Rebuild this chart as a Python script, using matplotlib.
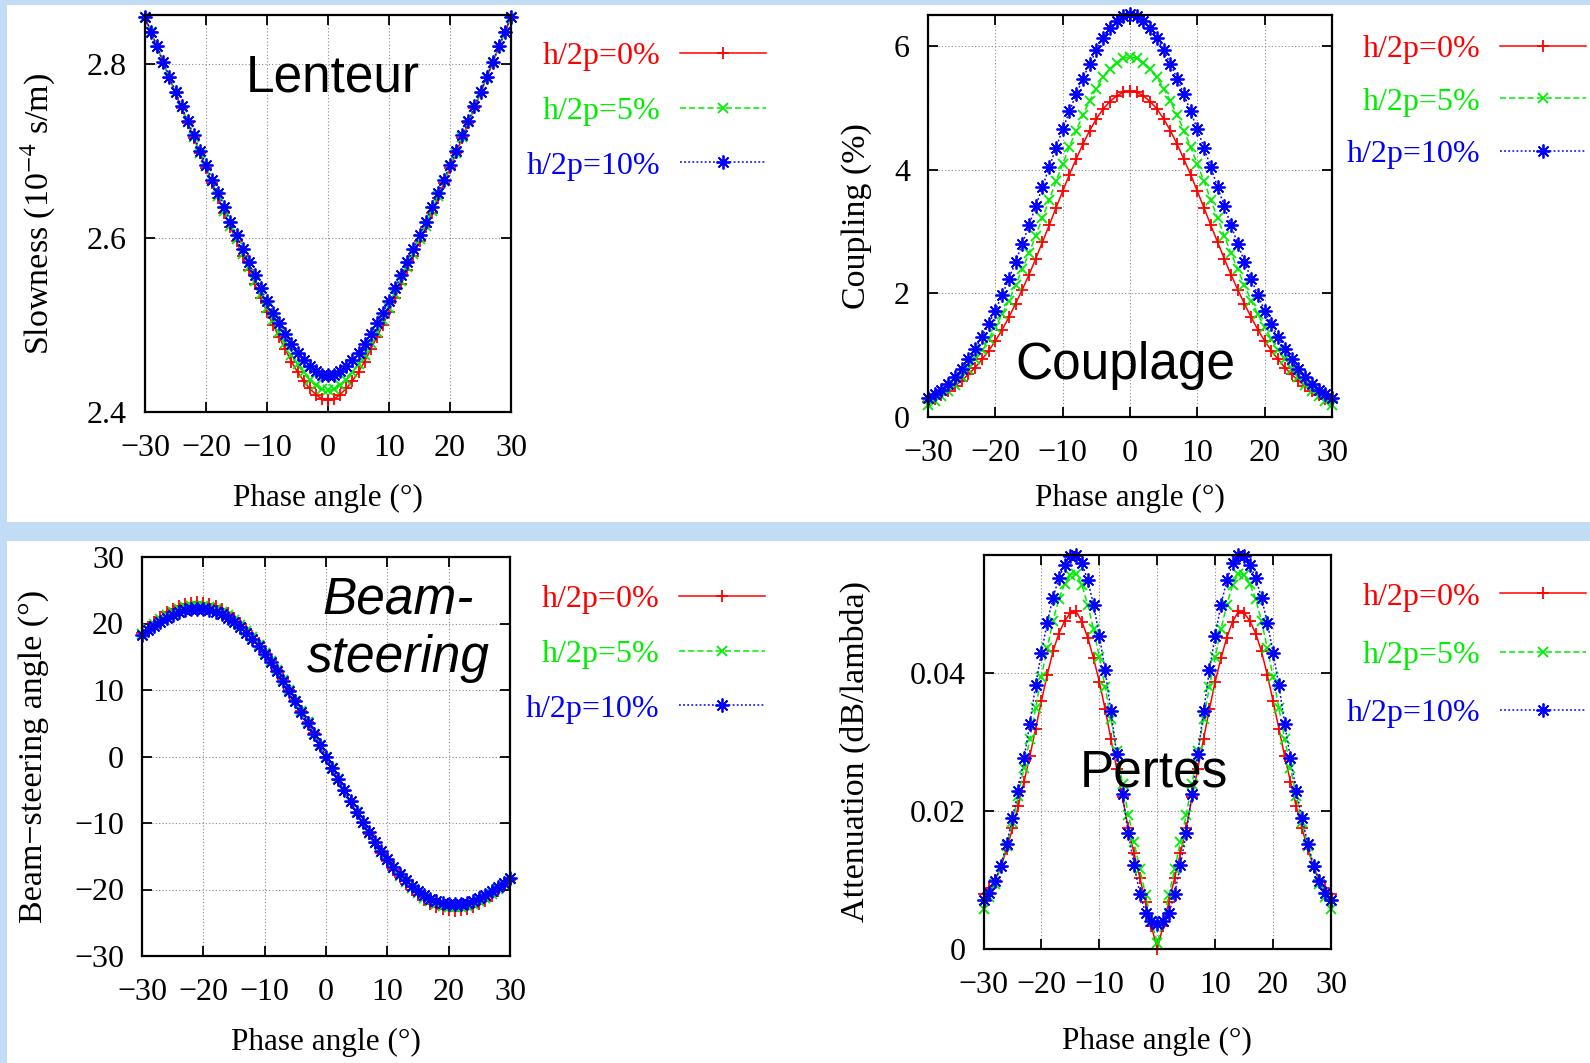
import matplotlib
matplotlib.use("Agg")
import matplotlib.pyplot as plt
from matplotlib.patches import Rectangle
from matplotlib.lines import Line2D

plt.rcParams['font.family'] = ['Liberation Serif', 'DejaVu Serif']
plt.rcParams['mathtext.fontset'] = 'stix'

# ---- data (1 degree steps) ----
phase = list(range(-30, 31))
series_labels = ['h/2p=0%', 'h/2p=5%', 'h/2p=10%']

slow_0 = [2.854, 2.836, 2.819, 2.801, 2.784, 2.766, 2.749, 2.732, 2.715, 2.697,
          2.680, 2.663, 2.646, 2.629, 2.612, 2.596, 2.579, 2.563, 2.547, 2.531,
          2.515, 2.500, 2.486, 2.472, 2.458, 2.446, 2.436, 2.427, 2.420, 2.415,
          2.414,
          2.415, 2.420, 2.427, 2.436, 2.446, 2.458, 2.472, 2.486, 2.500, 2.515,
          2.531, 2.547, 2.563, 2.579, 2.596, 2.612, 2.629, 2.646, 2.663, 2.680,
          2.697, 2.715, 2.732, 2.749, 2.766, 2.784, 2.801, 2.819, 2.836, 2.854]
slow_5 = [2.854, 2.836, 2.819, 2.801, 2.784, 2.767, 2.750, 2.733, 2.716, 2.698,
          2.682, 2.665, 2.648, 2.631, 2.614, 2.599, 2.582, 2.567, 2.551, 2.535,
          2.520, 2.506, 2.492, 2.479, 2.466, 2.455, 2.446, 2.437, 2.431, 2.426,
          2.425,
          2.426, 2.431, 2.437, 2.446, 2.455, 2.466, 2.479, 2.492, 2.506, 2.520,
          2.535, 2.551, 2.567, 2.582, 2.599, 2.614, 2.631, 2.648, 2.665, 2.682,
          2.698, 2.716, 2.733, 2.750, 2.767, 2.784, 2.801, 2.819, 2.836, 2.854]
slow_10 = [2.854, 2.836, 2.820, 2.802, 2.785, 2.768, 2.751, 2.734, 2.718, 2.700,
           2.684, 2.667, 2.651, 2.635, 2.618, 2.603, 2.587, 2.572, 2.557, 2.542,
           2.527, 2.514, 2.502, 2.490, 2.478, 2.468, 2.460, 2.453, 2.447, 2.443,
           2.442,
           2.443, 2.447, 2.453, 2.460, 2.468, 2.478, 2.490, 2.502, 2.514, 2.527,
           2.542, 2.557, 2.572, 2.587, 2.603, 2.618, 2.635, 2.651, 2.667, 2.684,
           2.700, 2.718, 2.734, 2.751, 2.768, 2.785, 2.802, 2.820, 2.836, 2.854]

coup_0 = [0.24, 0.29, 0.35, 0.42, 0.50, 0.59, 0.69, 0.80, 0.93, 1.07,
          1.23, 1.41, 1.61, 1.83, 2.06, 2.30, 2.56, 2.83, 3.10, 3.38,
          3.65, 3.92, 4.17, 4.41, 4.63, 4.82, 4.98, 5.10, 5.19, 5.25,
          5.27,
          5.25, 5.19, 5.10, 4.98, 4.82, 4.63, 4.41, 4.17, 3.92, 3.65,
          3.38, 3.10, 2.83, 2.56, 2.30, 2.06, 1.83, 1.61, 1.41, 1.23,
          1.07, 0.93, 0.80, 0.69, 0.59, 0.50, 0.42, 0.35, 0.29, 0.24]
coup_5 = [0.20, 0.26, 0.34, 0.42, 0.52, 0.64, 0.78, 0.93, 1.09, 1.26,
          1.45, 1.66, 1.88, 2.13, 2.39, 2.65, 2.93, 3.22, 3.51, 3.81,
          4.09, 4.37, 4.63, 4.88, 5.11, 5.31, 5.49, 5.62, 5.73, 5.80,
          5.82,
          5.80, 5.73, 5.62, 5.49, 5.31, 5.11, 4.88, 4.63, 4.37, 4.09,
          3.81, 3.51, 3.22, 2.93, 2.65, 2.39, 2.13, 1.88, 1.66, 1.45,
          1.26, 1.09, 0.93, 0.78, 0.64, 0.52, 0.42, 0.34, 0.26, 0.20]
coup_10 = [0.31, 0.37, 0.44, 0.53, 0.64, 0.78, 0.93, 1.10, 1.29, 1.50,
           1.72, 1.97, 2.23, 2.51, 2.80, 3.10, 3.41, 3.72, 4.04, 4.35,
           4.65, 4.94, 5.22, 5.47, 5.71, 5.93, 6.13, 6.29, 6.41, 6.49,
           6.52,
           6.49, 6.41, 6.29, 6.13, 5.93, 5.71, 5.47, 5.22, 4.94, 4.65,
           4.35, 4.04, 3.72, 3.41, 3.10, 2.80, 2.51, 2.23, 1.97, 1.72,
           1.50, 1.29, 1.10, 0.93, 0.78, 0.64, 0.53, 0.44, 0.37, 0.31]

beam_0 = [18.50, 19.45, 20.30, 21.05, 21.70, 22.17, 22.62, 22.94, 23.14, 23.20,
          23.14, 22.94, 22.62, 22.17, 21.60, 20.90, 20.09, 19.17, 18.14, 17.01,
          15.78, 14.47, 13.07, 11.60, 10.07, 8.48, 6.84, 5.16, 3.46, 1.73,
          0.00,
          -1.73, -3.46, -5.16, -6.84, -8.48, -10.07, -11.60, -13.07, -14.47, -15.78,
          -17.01, -18.14, -19.17, -20.09, -20.90, -21.60, -22.17, -22.62, -22.94, -23.14,
          -23.20, -23.14, -22.94, -22.62, -22.17, -21.70, -21.05, -20.30, -19.45, -18.50]
beam_5 = [18.40, 19.20, 19.95, 20.65, 21.25, 21.73, 22.15, 22.45, 22.64, 22.70,
          22.65, 22.48, 22.18, 21.77, 21.23, 20.56, 19.79, 18.90, 17.90, 16.80,
          15.60, 14.32, 12.94, 11.49, 9.98, 8.41, 6.79, 5.12, 3.43, 1.72,
          0.00,
          -1.72, -3.43, -5.12, -6.79, -8.41, -9.98, -11.49, -12.94, -14.32, -15.60,
          -16.80, -17.90, -18.90, -19.79, -20.56, -21.23, -21.77, -22.18, -22.48, -22.65,
          -22.70, -22.64, -22.45, -22.15, -21.73, -21.25, -20.65, -19.95, -19.20, -18.40]
beam_10 = [18.25, 18.98, 19.66, 20.28, 20.82, 21.28, 21.67, 21.96, 22.14, 22.20,
           22.16, 22.01, 21.74, 21.36, 20.85, 20.22, 19.48, 18.63, 17.66, 16.59,
           15.42, 14.16, 12.81, 11.38, 9.89, 8.33, 6.73, 5.08, 3.40, 1.70,
           0.00,
           -1.70, -3.40, -5.08, -6.73, -8.33, -9.89, -11.38, -12.81, -14.16, -15.42,
           -16.59, -17.66, -18.63, -19.48, -20.22, -20.85, -21.36, -21.74, -22.01, -22.16,
           -22.20, -22.14, -21.96, -21.67, -21.28, -20.82, -20.28, -19.66, -18.98, -18.25]

att_0 = [0.0080, 0.0088, 0.0100, 0.0119, 0.0145, 0.0175, 0.0207, 0.0243, 0.0280, 0.0320,
         0.0360, 0.0398, 0.0432, 0.0458, 0.0476, 0.0488, 0.0490, 0.0475, 0.0452, 0.0422,
         0.0388, 0.0348, 0.0305, 0.0262, 0.0220, 0.0175, 0.0139, 0.0103, 0.0068, 0.0033,
         0.0000,
         0.0033, 0.0068, 0.0103, 0.0139, 0.0175, 0.0220, 0.0262, 0.0305, 0.0348, 0.0388,
         0.0422, 0.0452, 0.0475, 0.0490, 0.0488, 0.0476, 0.0458, 0.0432, 0.0398, 0.0360,
         0.0320, 0.0280, 0.0243, 0.0207, 0.0175, 0.0145, 0.0119, 0.0100, 0.0088, 0.0080]
att_5 = [0.0058, 0.0075, 0.0095, 0.0120, 0.0150, 0.0184, 0.0222, 0.0263, 0.0305, 0.0350,
         0.0395, 0.0437, 0.0476, 0.0508, 0.0530, 0.0543, 0.0545, 0.0528, 0.0500, 0.0464,
         0.0424, 0.0380, 0.0334, 0.0287, 0.0240, 0.0195, 0.0155, 0.0116, 0.0078, 0.0040,
         0.0009,
         0.0040, 0.0078, 0.0116, 0.0155, 0.0195, 0.0240, 0.0287, 0.0334, 0.0380, 0.0424,
         0.0464, 0.0500, 0.0528, 0.0545, 0.0543, 0.0530, 0.0508, 0.0476, 0.0437, 0.0395,
         0.0350, 0.0305, 0.0263, 0.0222, 0.0184, 0.0150, 0.0120, 0.0095, 0.0075, 0.0058]
att_10 = [0.0071, 0.0082, 0.0098, 0.0121, 0.0153, 0.0190, 0.0230, 0.0277, 0.0327, 0.0383,
          0.0430, 0.0474, 0.0510, 0.0538, 0.0558, 0.0570, 0.0572, 0.0560, 0.0535, 0.0500,
          0.0455, 0.0405, 0.0345, 0.0283, 0.0225, 0.0168, 0.0122, 0.0080, 0.0052, 0.0041,
          0.0037,
          0.0041, 0.0052, 0.0080, 0.0122, 0.0168, 0.0225, 0.0283, 0.0345, 0.0405, 0.0455,
          0.0500, 0.0535, 0.0560, 0.0572, 0.0570, 0.0558, 0.0538, 0.0510, 0.0474, 0.0430,
          0.0383, 0.0327, 0.0277, 0.0230, 0.0190, 0.0153, 0.0121, 0.0098, 0.0082, 0.0071]

xticks = [-30, -20, -10, 0, 10, 20, 30]
xtick_labels = ['\u221230', '\u221220', '\u221210', '0', '10', '20', '30']

# ---- styles ----
colors = ['#ff0000', '#00ee00', '#0000ff']
styles = ['-', (0, (4, 2)), (0, (1.2, 1.5))]
markers = ['+', 'x', (8, 2, 0)]
msizes = [9, 7, 10]

fig = plt.figure(figsize=(15.9, 10.63), dpi=100, facecolor='#c3dcf6')
W, H = 1590.0, 1063.0
fig.add_artist(Rectangle((7 / W, 1 - 522 / H), 1, (522 - 5) / H,
                         transform=fig.transFigure, facecolor='white',
                         edgecolor='none', zorder=-5))
fig.add_artist(Rectangle((7 / W, 0), 1, (1063 - 541) / H,
                         transform=fig.transFigure, facecolor='white',
                         edgecolor='none', zorder=-5))


def panel(box, data, ylim, yticks, ylabels, ylabel, ylab_x, xlab_y, leg_xy, tag, lsp=0.8):
    l, t, r, b = box
    ax = fig.add_axes([l / W, 1 - b / H, (r - l) / W, (b - t) / H])
    for vals, c, ls, m, ms, lab in zip(data, colors, styles, markers, msizes, series_labels):
        ax.plot(phase, vals, color=c, linestyle=ls, linewidth=1.1, marker=m,
                markersize=ms, markeredgewidth=1.3, clip_on=False, label=lab)
    ax.set_xlim(-30, 30)
    ax.set_ylim(*ylim)
    ax.set_xticks(xticks, labels=xtick_labels)
    ax.set_yticks(yticks, labels=ylabels)
    ax.tick_params(direction='in', length=7, width=1.3, top=True, right=True,
                   labelsize=23, pad=13)
    ax.tick_params(axis='x', pad=15.5)
    ax.grid(True, color='#8a8a8a', linestyle=(0, (1, 2)), linewidth=0.8)
    for s in ax.spines.values():
        s.set_linewidth(1.6)
    ax.set_xlabel('Phase angle (\u00b0)', fontsize=22.5, va='center')
    ax.xaxis.set_label_coords(0.5, xlab_y)
    ax.set_ylabel(ylabel, fontsize=24.5, va='center')
    ax.yaxis.set_label_coords(ylab_x, 0.5)
    handles = [Line2D([], [], color=c, linestyle=ls, linewidth=1.1, marker=m,
                      markersize=ms, markeredgewidth=1.3)
               for c, ls, m, ms in zip(colors, styles, markers, msizes)]
    ax.legend(handles, series_labels, loc='center right',
              bbox_to_anchor=(leg_xy[0] / W, 1 - leg_xy[1] / H),
              bbox_transform=fig.transFigure, frameon=False, markerfirst=False,
              numpoints=1, handlelength=2.7, handletextpad=0.6,
              labelspacing=lsp, borderpad=0, borderaxespad=0,
              prop={'family': 'Liberation Serif', 'size': 23},
              labelcolor='linecolor')
    for txt, x, y, style in tag:
        ax.text(x, y, txt, transform=ax.transAxes, ha='center', va='baseline',
                fontsize=37, family='Liberation Sans', style=style, zorder=10)
    return ax


panel((145, 15, 511, 412), [slow_0, slow_5, slow_10], (2.4, 2.856),
      [2.4, 2.6, 2.8], ['2.4', '2.6', '2.8'], 'Slowness (10$^{-4}$ s/m)',
      -0.291, -0.219, (766, 111), [('Lenteur', 0.512, 0.808, 'normal')])

panel((928, 15, 1332, 417), [coup_0, coup_5, coup_10], (0, 6.5),
      [0, 2, 4, 6], ['0', '2', '4', '6'], 'Coupling (%)',
      -0.176, -0.2015, (1586, 102), [('Couplage', 0.489, 0.0955, 'normal')],
      lsp=0.72)

panel((142, 557, 510, 956), [beam_0, beam_5, beam_10], (-30, 30),
      [-30, -20, -10, 0, 10, 20, 30],
      ['\u221230', '\u221220', '\u221210', '0', '10', '20', '30'],
      'Beam\u2212steering angle (\u00b0)',
      -0.295, -0.217, (765, 654),
      [('Beam-', 0.696, 0.858, 'italic'), ('steering', 0.696, 0.711, 'italic')])

panel((983.5, 555, 1331, 949), [att_0, att_5, att_10], (0, 0.0572),
      [0, 0.02, 0.04], ['0', '0.02', '0.04'], 'Attenuation (dB/lambda)',
      -0.37, -0.235, (1586, 655), [('Pertes', 0.490, 0.412, 'normal')],
      lsp=0.9)

fig.savefig('out.png', dpi=100, facecolor=fig.get_facecolor())
